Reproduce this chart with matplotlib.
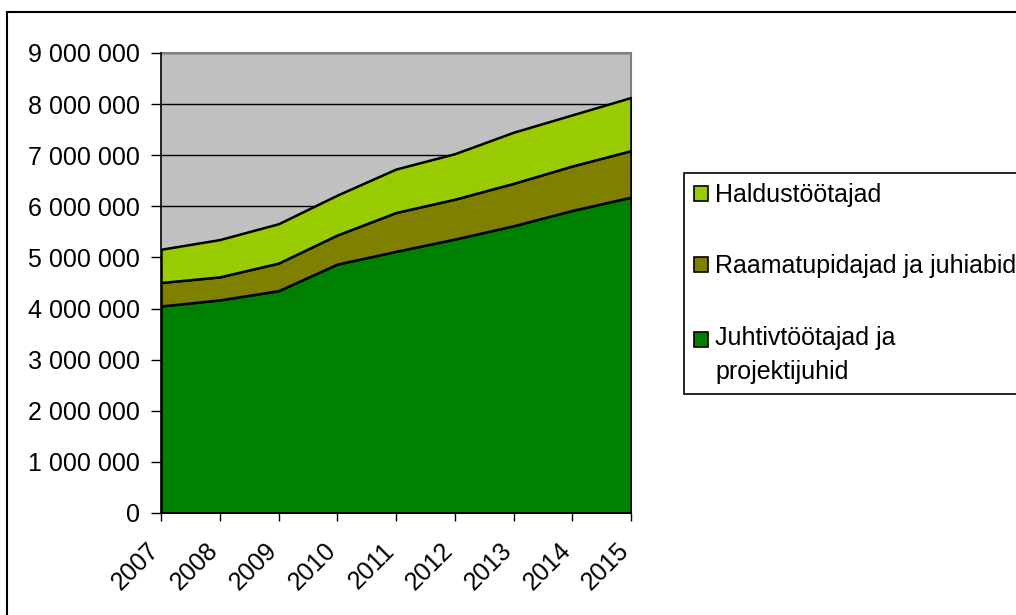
import matplotlib
matplotlib.use("Agg")
import matplotlib.pyplot as plt
from matplotlib.patches import Patch, Rectangle
from matplotlib.legend_handler import HandlerPatch
from matplotlib.transforms import ScaledTranslation
from matplotlib.ticker import FuncFormatter, MultipleLocator

years = [2007, 2008, 2009, 2010, 2011, 2012, 2013, 2014, 2015]
juhtiv = [4050000, 4170000, 4350000, 4870000, 5120000, 5360000, 5620000, 5920000, 6180000]
raamat = [460000, 450000, 540000, 570000, 760000, 780000, 830000, 870000, 910000]
haldus = [650000, 730000, 770000, 780000, 850000, 890000, 1000000, 1000000, 1040000]

labels = ["Juhtivtöötajad ja\nprojektijuhid", "Raamatupidajad ja juhiabid", "Haldustöötajad"]
colors = ["#008000", "#808000", "#99CC00"]

plt.rcParams['font.family'] = ['Liberation Sans', 'DejaVu Sans']

W, H = 1016, 615
fig = plt.figure(figsize=(W / 100, H / 100), dpi=100)
ax = fig.add_axes([161 / W, 1 - 513 / H, (631 - 161) / W, (513 - 53) / H])
ax.set_facecolor("#C0C0C0")

ax.stackplot(years, juhtiv, raamat, haldus, colors=colors,
             edgecolor="black", linewidth=1.8, zorder=3)

ax.set_xlim(years[0], years[-1])
ax.set_ylim(0, 9000000)
ax.yaxis.set_major_locator(MultipleLocator(1000000))
ax.yaxis.set_major_formatter(FuncFormatter(lambda v, p: f"{int(v):,}".replace(",", " ")))
ax.set_xticks(years)
ax.set_xticklabels([str(y) for y in years], rotation=45, ha="right", rotation_mode="anchor")
ax.grid(axis="y", color="black", linewidth=1, zorder=1)
ax.set_axisbelow(True)

for s in ["top", "right"]:
    ax.spines[s].set_color("#808080")
    ax.spines[s].set_linewidth(1.5)
for s in ["left", "bottom"]:
    ax.spines[s].set_color("black")
    ax.spines[s].set_linewidth(1.2)
    ax.spines[s].set_zorder(5)

ax.tick_params(axis="both", colors="black", direction="out", width=1)
ax.tick_params(axis="y", labelsize=18, pad=8, length=7)
ax.tick_params(axis="x", labelsize=18, pad=8, length=6)

off = ScaledTranslation(-14 / 100, -6 / 100, fig.dpi_scale_trans)
for lab in ax.get_xticklabels():
    lab.set_transform(lab.get_transform() + off)


class ShiftedPatch(HandlerPatch):
    def __init__(self, shift=0, **kw):
        super().__init__(**kw)
        self.shift = shift

    def create_artists(self, legend, orig_handle, xdescent, ydescent, width, height, fontsize, trans):
        p = Rectangle((-xdescent, -ydescent + self.shift), width, height,
                      facecolor=orig_handle.get_facecolor(), edgecolor="black", linewidth=1.2)
        p.set_transform(trans)
        return [p]


handles = [Patch(facecolor=colors[i], edgecolor="black", linewidth=1.2) for i in [2, 1, 0]]
leg = fig.legend(handles, [labels[i] for i in [2, 1, 0]],
                 loc="upper left", bbox_to_anchor=(684 / W, 1 - 173 / H),
                 fontsize=18, frameon=True, fancybox=False, edgecolor="black",
                 handlelength=0.55, handleheight=0.55, handletextpad=0.3,
                 labelspacing=1.9, borderpad=0.4, borderaxespad=0, framealpha=1,
                 handler_map={handles[2]: ShiftedPatch(shift=11.5),
                              handles[0]: ShiftedPatch(shift=0),
                              handles[1]: ShiftedPatch(shift=0)})
leg.get_frame().set_linewidth(1.2)
for t in leg.get_texts():
    t.set_linespacing(1.5)

fig.patches.append(Rectangle((7 / W, -0.1), 1.2, 1 - 12 / H + 0.1,
                             transform=fig.transFigure, fill=False,
                             edgecolor="black", linewidth=1.5))

fig.savefig("out.png", dpi=100)
